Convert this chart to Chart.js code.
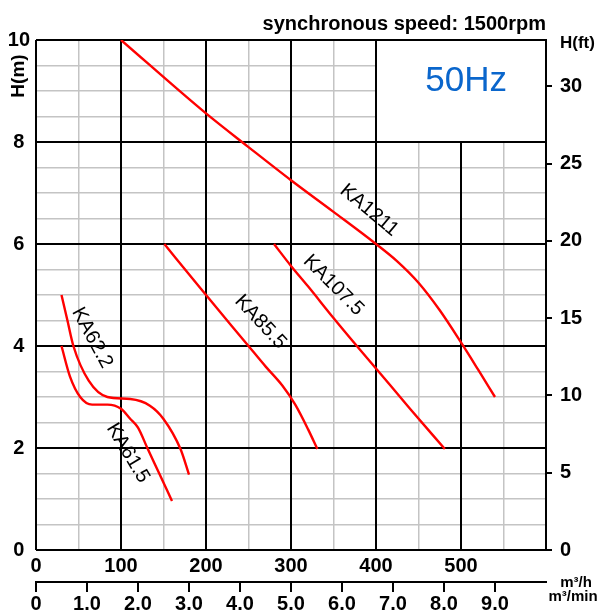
<!DOCTYPE html>
<html><head><meta charset="utf-8">
<script src="https://cdn.jsdelivr.net/npm/chart.js@4/dist/chart.umd.min.js"></script>
<style>html,body{margin:0;padding:0;background:#fff}canvas{display:block}</style>
</head><body>
<canvas id="c" width="602" height="616"></canvas>
<script>
// ---- data ----
const curveNames = ["KA1211", "KA107.5", "KA85.5", "KA62.2", "KA61.5"];

const flowKA1211 = [100, 200, 250, 300, 350, 400, 425, 450, 475, 500, 520, 540];
const headKA1211 = [10, 8.56, 7.9, 7.25, 6.63, 6.0, 5.66, 5.24, 4.70, 4.07, 3.54, 3.0];

const flowKA1075 = [280, 300, 320, 350, 376, 400, 440, 481];
const headKA1075 = [6.0, 5.57, 5.17, 4.55, 4.03, 3.56, 2.77, 1.98];

const flowKA855 = [151, 193, 250, 270, 290, 305, 320, 331];
const headKA855 = [6.0, 5.14, 4.0, 3.6, 3.22, 2.85, 2.37, 1.98];

const flowKA622 = [30, 37, 44, 62, 84, 111, 134, 150, 170, 180];
const headKA622 = [5.0, 4.5, 4.0, 3.32, 3.0, 2.96, 2.83, 2.57, 1.98, 1.48];

const flowKA615 = [30, 40, 52, 66, 84, 100, 111, 120, 131, 145, 160];
const headKA615 = [4.0, 3.4, 3.0, 2.85, 2.85, 2.77, 2.57, 2.4, 2.0, 1.5, 0.96];

const flowTicksM3h = [0, 100, 200, 300, 400, 500];
const headTicksM = [0, 2, 4, 6, 8, 10];
const headTicksFt = [0, 5, 10, 15, 20, 25, 30];
const flowTicksM3min = [0, 1, 2, 3, 4, 5, 6, 7, 8, 9];

const titleText = "synchronous speed: 1500rpm";
const freqText = "50Hz";

// ---- helpers ----
const FONT = '"Liberation Sans", Arial, Helvetica, sans-serif';
const pairs = (xs, ys) => xs.map((x, i) => ({x: x, y: ys[i]}));
const flows = [flowKA1211, flowKA1075, flowKA855, flowKA622, flowKA615];
const heads = [headKA1211, headKA1075, headKA855, headKA622, headKA615];

const datasets = curveNames.map((n, i) => ({
  label: n,
  data: pairs(flows[i], heads[i]),
  borderColor: '#ff0000',
  borderWidth: 2.4,
  pointRadius: 0,
  fill: false,
  cubicInterpolationMode: 'monotone',
  xAxisID: 'x', yAxisID: 'y'
}));

// label placement along curves (data coords + angle in degrees)
const curveLabels = [
  {q: 392, h: 6.66, a: 40},
  {q: 350, h: 5.19, a: 45},
  {q: 264, h: 4.47, a: 47},
  {q: 66,  h: 4.16, a: 62},
  {q: 108, h: 1.90, a: 59}
];

const GREY = '#c4c4c4';
const tickFont = {family: FONT, size: 20, weight: 'bold'};

const decorPlugin = {
  id: 'decor',
  beforeDatasetsDraw(chart) {
    const ctx = chart.ctx, xs = chart.scales.x, ys = chart.scales.y, ca = chart.chartArea;
    const l = xs.getPixelForValue(400) + 1, r = ca.right - 1;
    const t = ca.top + 1, b = ys.getPixelForValue(8) - 1;
    ctx.save();
    ctx.fillStyle = '#fff';
    ctx.fillRect(l, t, r - l, b - t);
    ctx.fillStyle = '#0a66cc';
    ctx.font = '35px ' + FONT;
    ctx.textAlign = 'center';
    ctx.textBaseline = 'alphabetic';
    ctx.fillText(freqText, xs.getPixelForValue(506), ys.getPixelForValue(9.0));
    ctx.restore();
  },
  afterDatasetsDraw(chart) {
    const ctx = chart.ctx, xs = chart.scales.x, ys = chart.scales.y;
    ctx.save();
    ctx.fillStyle = '#000';
    ctx.font = '20px ' + FONT;
    ctx.textAlign = 'center';
    ctx.textBaseline = 'middle';
    curveLabels.forEach((c, i) => {
      ctx.save();
      ctx.translate(xs.getPixelForValue(c.q), ys.getPixelForValue(c.h));
      ctx.rotate(c.a * Math.PI / 180);
      ctx.fillText(curveNames[i], 0, 0);
      ctx.restore();
    });
    ctx.restore();
  },
  afterDraw(chart) {
    const ctx = chart.ctx, ca = chart.chartArea;
    ctx.save();
    ctx.fillStyle = '#000';
    ctx.textBaseline = 'alphabetic';
    ctx.font = 'bold 20px ' + FONT;
    ctx.textAlign = 'right';
    ctx.fillText(titleText, ca.right, 30);
    ctx.font = 'bold 17px ' + FONT;
    ctx.textAlign = 'left';
    ctx.fillText('H(ft)', 560, 48);
    // H(m) rotated
    ctx.save();
    ctx.translate(24, 76);
    ctx.rotate(-Math.PI / 2);
    ctx.font = 'bold 19px ' + FONT;
    ctx.textAlign = 'center';
    ctx.fillText('H(m)', 0, 0);
    ctx.restore();
    ctx.font = 'bold 15px ' + FONT;
    ctx.textAlign = 'center';
    ctx.fillText('m³/h', 576, 587);
    ctx.fillText('m³/min', 573, 601);
    ctx.restore();
  }
};

new Chart(document.getElementById('c'), {
  type: 'line',
  data: {datasets: datasets},
  plugins: [decorPlugin],
  options: {
    responsive: false,
    devicePixelRatio: 1,
    animation: false,
    events: [],
    layout: {padding: {top: 40, left: 0, right: 0, bottom: 0}},
    plugins: {legend: {display: false}, tooltip: {enabled: false}, title: {display: false}},
    scales: {
      x: {
        type: 'linear', position: 'bottom', min: 0, max: 600, weight: 0,
        grid: {color: GREY, lineWidth: 1.5, drawTicks: false, z: -2},
        border: {display: false},
        ticks: {
          stepSize: 50, autoSkip: false, maxRotation: 0, padding: 4,
          font: tickFont, color: '#000',
          callback: (v) => flowTicksM3h.includes(v) ? String(v) : ''
        },
        afterFit: (s) => { s.height = 32; }
      },
      xMaj: {
        type: 'linear', position: 'bottom', min: 0, max: 600, weight: -1,
        grid: {color: '#000', lineWidth: 2, drawTicks: false, z: -1},
        border: {display: false},
        ticks: {stepSize: 100, display: false},
        afterFit: (s) => { s.height = 0; }
      },
      x2: {
        type: 'linear', position: 'bottom', min: 0, max: 10, weight: 2,
        grid: {drawOnChartArea: false, drawTicks: true, tickLength: 10, color: '#000', lineWidth: 2},
        border: {display: true, color: '#000', width: 2},
        ticks: {
          stepSize: 1, autoSkip: false, maxRotation: 0, padding: 0,
          font: tickFont, color: '#000',
          callback: (v) => v === 0 ? '0' : v.toFixed(1)
        },
        afterBuildTicks: (s) => { s.ticks = flowTicksM3min.map(v => ({value: v})); },
        afterFit: (s) => { s.height = 34; }
      },
      y: {
        type: 'linear', position: 'left', min: 0, max: 10, weight: 0,
        grid: {color: GREY, lineWidth: 1.5, drawTicks: false, z: -2},
        border: {display: false},
        ticks: {
          stepSize: 0.5, autoSkip: false, padding: 6, crossAlign: 'center',
          font: tickFont, color: '#000',
          callback: (v) => headTicksM.includes(v) ? String(v) : ''
        },
        afterFit: (s) => { s.width = 36; }
      },
      yMaj: {
        type: 'linear', position: 'left', min: 0, max: 10, weight: -1,
        grid: {color: '#000', lineWidth: 2, drawTicks: false, z: -1},
        border: {display: false},
        ticks: {stepSize: 2, display: false},
        afterFit: (s) => { s.width = 0; }
      },
      yR: {
        type: 'linear', position: 'right', min: 0, max: 33,
        grid: {drawOnChartArea: false, drawTicks: true, tickLength: 6, color: '#000', lineWidth: 2},
        border: {display: true, color: '#000', width: 2},
        ticks: {
          stepSize: 5, autoSkip: false, padding: 8, includeBounds: false,
          font: tickFont, color: '#000',
          callback: (v) => String(v)
        },
        afterBuildTicks: (s) => { s.ticks = headTicksFt.map(v => ({value: v})); },
        afterFit: (s) => { s.width = 56; }
      }
    }
  }
});
</script>
</body></html>
